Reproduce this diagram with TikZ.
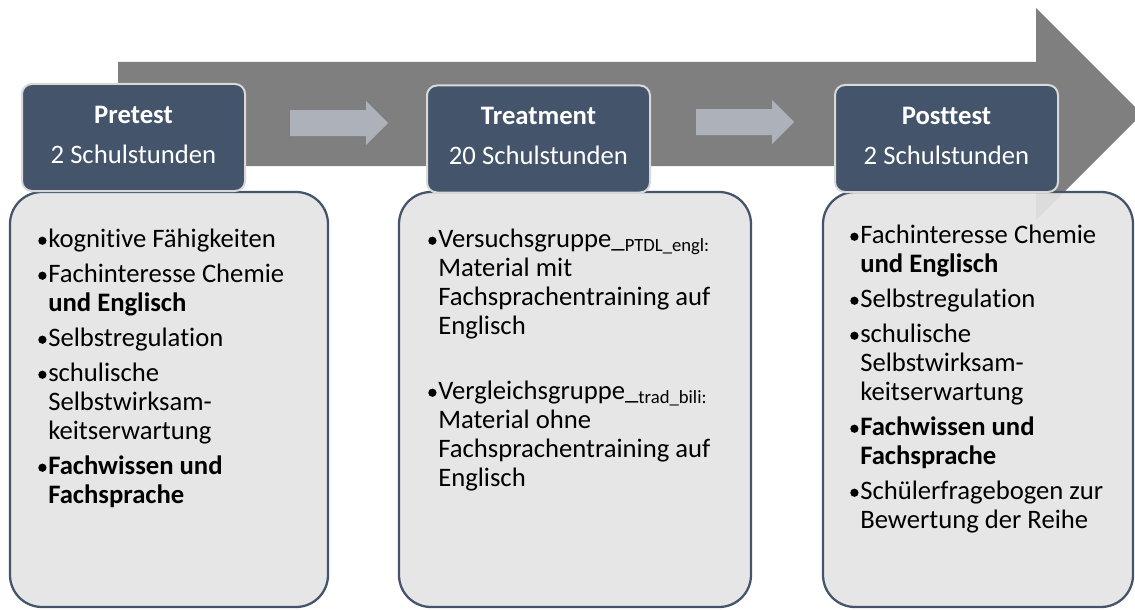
\documentclass[tikz,border=0pt]{standalone}
\usepackage{fontspec}
\setmainfont{Carlito}[Ligatures={NoCommon}]
\usepackage{xcolor}

\definecolor{slate}{HTML}{44546A}
\definecolor{rimgray}{HTML}{D9D9D9}
\definecolor{boxgray}{HTML}{E4E4E4}
\definecolor{arrowgray}{HTML}{7F7F7F}
\definecolor{stepgray}{HTML}{ADB1B9}

% bullet item with hanging indent
\newcommand{\dotmark}{\tikz[baseline=0pt]\fill (3.1pt,4.7pt) circle (3.1pt);}
\newcommand{\bitem}[1]{\noindent\spaceskip=0pt\xspaceskip=0pt\hangindent=7.5pt\hangafter=1%
  \makebox[7.5pt][l]{\dotmark}#1\par\vspace{4.5pt}}

\tikzset{
  head/.style={fill=slate, draw=rimgray, line width=1.5pt, rounded corners=7.5pt,
    minimum width=167.25pt, minimum height=80.25pt, text depth=4.4pt,
    text=white, align=center, font=\fontsize{20}{30}\selectfont},
  panel/.style={fill=boxgray, fill opacity=0.92, draw=slate, line width=1.7pt, rounded corners=24pt},
  items/.style={anchor=base west, inner sep=0pt, align=left,
    font=\fontsize{20}{21.75}\selectfont},
}

\begin{document}
\begin{tikzpicture}[x=0.75pt, y=-0.75pt]
  \useasboundingbox (0,0) rectangle (1135,610);
  \clip (0,0) rectangle (1135,610);
  % Timeline arrow
  \fill[arrowgray] (118,62) -- (1036,62) -- (1036,8) -- (1142,114) -- (1036,220) -- (1036,166) -- (118,166) -- cycle;
  % Step arrows between the phases
  \foreach \x/\y in {290/123, 696/122}
    \fill[stepgray] (\x,\y-13) -- ++(76,0) -- ++(0,-9) -- ++(22,22) -- ++(-22,22) -- ++(0,-9) -- ++(-76,0) -- cycle;
  % Content panels
  \draw[panel] (10,192) rectangle (328,607);
  \draw[panel] (399,192) rectangle (751,607);
  \draw[panel] (823,192) rectangle (1133,607);
  % Phase headers
  \node[head] (pre) at (133.5,137.5) {\textbf{Pretest}\\2 Schulstunden};
  \node[head] (treat) at (538.5,139) {\textbf{Treatment}\\20 Schulstunden};
  \node[head] (post) at (946.5,138.5) {\textbf{Posttest}\\2 Schulstunden};
  % Panel texts
  \node[items, text width=210pt] (pretext) at (38,247) {%
    \bitem{kognitive Fähigkeiten}
    \bitem{Fachinteresse Chemie\newline\textbf{und Englisch}}
    \bitem{Selbstregulation}
    \bitem{schulische\newline Selbstwirksam-\newline keitserwartung}
    \bitem{\textbf{Fachwissen und\newline Fachsprache}}};
  \node[items, text width=235pt] (treattext) at (428,247) {%
    \bitem{Versuchsgruppe\_\textsubscript{PTDL\_engl:}\newline Material mit\newline Fachsprachentraining auf\newline Englisch}
    \vspace{22.5pt}
    \bitem{Vergleichsgruppe\_\textsubscript{trad\_bili:}\newline Material ohne\newline Fachsprachentraining auf\newline Englisch}};
  \node[items, text width=205pt] (posttext) at (850,243) {%
    \bitem{Fachinteresse Chemie\newline\textbf{und Englisch}}
    \bitem{Selbstregulation}
    \bitem{schulische\newline Selbstwirksam-\newline keitserwartung}
    \bitem{\textbf{Fachwissen und\newline Fachsprache}}
    \bitem{Schülerfragebogen zur\newline Bewertung der Reihe}};
\end{tikzpicture}
\end{document}
